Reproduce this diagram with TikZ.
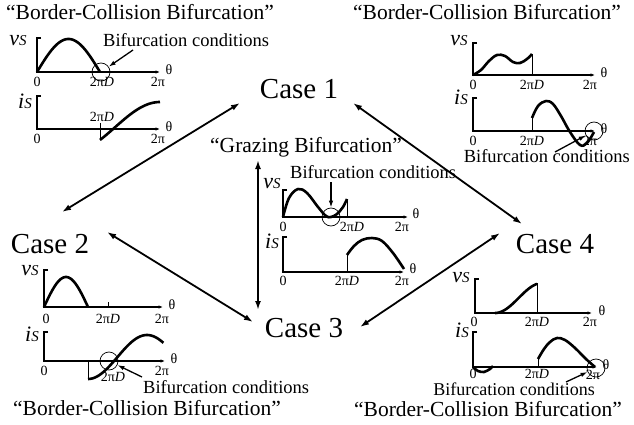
\documentclass[tikz,border=0pt]{standalone}
\usepackage{fontspec}
\setmainfont{Liberation Serif}
\usetikzlibrary{arrows.meta}
\newcommand\myvs{{\fontsize{22}{22}\selectfont\itshape v}{\fontsize{15}{15}\selectfont\itshape S}}
\newcommand\myis{{\fontsize{22}{22}\selectfont\itshape i}{\fontsize{15}{15}\selectfont\itshape S}}
\newcommand\tpD{2π\textit{D}}
\newcommand\plotaxes[4]{\draw[axis] ({#1+4},#2) -- (#1,#2) -- (#1,#3) -- (#4,#3);}
\begin{document}
\begin{tikzpicture}[x=1pt,y=-1pt,
  axis/.style={line width=1.2pt,-{Latex[length=4.5pt,width=3.5pt]}},
  curve/.style={line width=2.6pt,line join=round},
  vline/.style={line width=0.7pt},
  casearrow/.style={line width=1.8pt,{Latex[length=9pt,width=6pt]}-{Latex[length=9pt,width=6pt]}},
  pointer/.style={line width=1.3pt,-{Latex[length=7pt,width=4.5pt]}},
  ring/.style={draw,circle,line width=0.7pt,minimum size=18pt,inner sep=0pt},
  casetext/.style={inner sep=0pt,font=\fontsize{29}{29}\selectfont},
  title/.style={inner sep=0pt,font=\fontsize{21.5}{21.5}\selectfont},
  cond/.style={inner sep=0pt,font=\fontsize{18.5}{18.5}\selectfont},
  ticklab/.style={inner sep=0pt,font=\fontsize{14}{14}\selectfont},
  varlab/.style={inner sep=0pt},
]
\useasboundingbox (0,0) rectangle (634,425);

% ---------- titles ----------
\node[title,anchor=base west] (ttl) at (6,20) {“Border-Collision Bifurcation”};
\node[title,anchor=base east] (ttr) at (621,20) {“Border-Collision Bifurcation”};
\node[title,anchor=base west] (tbl) at (13,415) {“Border-Collision Bifurcation”};
\node[title,anchor=base east] (tbr) at (622,416) {“Border-Collision Bifurcation”};
\node[title,anchor=base west] (tgr) at (210,153) {“Grazing Bifurcation”};

% ---------- cases ----------
\node[casetext,anchor=base] (case1) at (299,99) {Case 1};
\node[casetext,anchor=base] (case2) at (50,253) {Case 2};
\node[casetext,anchor=base] (case3) at (304,337) {Case 3};
\node[casetext,anchor=base] (case4) at (555,253) {Case 4};

\coordinate (c12a) at (240,103); \coordinate (c12b) at (62,212);
\coordinate (c14a) at (353,103); \coordinate (c14b) at (522,224);
\coordinate (c23a) at (107,232); \coordinate (c23b) at (253,322);
\coordinate (c34a) at (360,327); \coordinate (c34b) at (500,233);
\coordinate (c13a) at (258,160); \coordinate (c13b) at (258,310);
\draw[casearrow] (c12a) -- (c12b);
\draw[casearrow] (c14a) -- (c14b);
\draw[casearrow] (c23a) -- (c23b);
\draw[casearrow] (c34a) -- (c34b);
\draw[casearrow] (c13a) -- (c13b);

% ---------- top-left panel ----------
\plotaxes{37}{38}{72}{160}
\node[varlab] (tlv) at (18,41) {\myvs};
\node[ticklab] (tl0a) at (37,82) {0};
\node[ticklab] (tlDa) at (102,82) {\tpD};
\node[ticklab] (tlpa) at (158,82) {2π};
\node[ticklab] (tlta) at (169,70) {θ};
\draw[curve] plot[domain=0:180,samples=40] ({37+63*\x/180},{72-33*sin(\x)});
\node[ring] (ctl) at (101,72) {};
\node[cond,anchor=base west] (condtl) at (103,47) {Bifurcation conditions};
\coordinate (ptl) at (133,50);
\draw[pointer] (ptl) -- (ctl);
\plotaxes{37}{96}{129}{160}
\node[varlab] (tli) at (25,101) {\myis};
\node[ticklab] (tl0b) at (37,139) {0};
\node[ticklab] (tlDb) at (102,117) {\tpD};
\node[ticklab] (tlpb) at (158,139) {2π};
\node[ticklab] (tltb) at (169,127) {θ};
\draw[vline] (100,123) -- (100,140);
\draw[curve] plot[domain=-30:90,samples=40] ({100+60*(\x+30)/120},{127.3-25.3*sin(\x)});

% ---------- top-right panel ----------
\plotaxes{473}{43}{75}{595}
\node[varlab] (trv) at (459,41) {\myvs};
\node[ticklab] (tr0a) at (473,85) {0};
\node[ticklab] (trDa) at (532,85) {\tpD};
\node[ticklab] (trpa) at (590,85) {2π};
\node[ticklab] (trta) at (604,73) {θ};
\draw[curve] plot[smooth,tension=0.6] coordinates {(473,75) (481,70) (489,61) (497,55) (505,56) (513,62) (520,63) (527,59) (532,54)};
\draw[vline] (532,54) -- (532,75);
\plotaxes{473}{98}{131}{595}
\node[varlab] (tri) at (461,97) {\myis};
\node[ticklab] (tr0b) at (473,141) {0};
\node[ticklab] (trDb) at (532,141) {\tpD};
\node[ticklab] (trpb) at (590,141) {2π};
\node[ticklab] (trtb) at (604,129) {θ};
\draw[vline] (532,131) -- (532,118);
\draw[curve] plot[smooth,tension=0.6] coordinates {(532,118) (538,106) (546,101) (553,104) (561,116) (570,132) (580,145) (587,143) (594,132)};
\node[ring] (ctr) at (594,131) {};
\node[cond,anchor=base east] (condtr) at (630,162) {Bifurcation conditions};
\coordinate (ptr) at (555,152);
\draw[pointer] (ptr) -- (ctr);

% ---------- centre panel ----------
\plotaxes{283}{190}{217}{408}
\node[varlab] (cv) at (272,184) {\myvs};
\node[ticklab] (c0a) at (283,227) {0};
\node[ticklab] (cDa) at (352,227) {\tpD};
\node[ticklab] (cpa) at (402,227) {2π};
\node[ticklab] (cta) at (416,214) {θ};
\draw[curve] plot[smooth,tension=0.6] coordinates {(283,217) (289,198) (298,189) (307,193) (318,207) (326,216) (331,217) (337,214) (343,207) (347,199)};
\draw[vline] (347,199) -- (347,217);
\node[ring] (cc) at (331,217) {};
\node[cond,anchor=base west] (condc) at (290,178) {Bifurcation conditions};
\coordinate (pc) at (331,182);
\draw[pointer] (pc) -- (cc);
\plotaxes{283}{237}{272}{404}
\node[varlab] (ci) at (272,241) {\myis};
\node[ticklab] (c0b) at (283,281) {0};
\node[ticklab] (cDb) at (347,281) {\tpD};
\node[ticklab] (cpb) at (402,281) {2π};
\node[ticklab] (ctb) at (413,269) {θ};
\draw[vline] (347,272) -- (347,255);
\draw[curve] plot[smooth,tension=0.6] coordinates {(347,255) (354,246) (362,240) (372,238) (382,241) (393,253) (404,269)};

% ---------- bottom-left panel ----------
\plotaxes{44}{270}{307}{163}
\node[varlab] (blv) at (30,271) {\myvs};
\node[ticklab] (bl0a) at (46,319) {0};
\node[ticklab] (blDa) at (108,319) {\tpD};
\node[ticklab] (blpa) at (162,319) {2π};
\node[ticklab] (blta) at (172,305) {θ};
\draw[vline] (108,302) -- (108,307);
\draw[curve] plot[domain=0:180,samples=40] ({44+44*\x/180},{307-30*sin(\x)});
\plotaxes{44}{332}{361}{165}
\node[varlab] (bli) at (32,334) {\myis};
\node[ticklab] (bl0b) at (44,371) {0};
\node[ticklab] (blDb) at (113,377) {\tpD};
\node[ticklab] (blpb) at (162,371) {2π};
\node[ticklab] (bltb) at (174,359) {θ};
\draw[vline] (88,361) -- (88,379);
\draw[curve] plot[domain=-90:140,samples=50] ({88+59*(\x+90)/180},{357-22*sin(\x)});
\node[ring] (cbl) at (109,361) {};
\node[cond,anchor=base west] (condbl) at (143,393) {Bifurcation conditions};
\coordinate (pbl) at (142,377);
\draw[pointer] (pbl) -- (cbl);

% ---------- bottom-right panel ----------
\plotaxes{475}{279}{313}{592}
\node[varlab] (brv) at (461,278) {\myvs};
\node[ticklab] (br0a) at (474,322) {0};
\node[ticklab] (brDa) at (537,322) {\tpD};
\node[ticklab] (brpa) at (590,322) {2π};
\node[ticklab] (brta) at (602,311) {θ};
\draw[curve] plot[domain=-90:70,samples=40] ({495+42*(\x+90)/160},{298-15*sin(\x)});
\draw[vline] (537,283) -- (537,313);
\plotaxes{473}{332}{367}{597}
\node[varlab] (bri) at (462,330) {\myis};
\node[ticklab] (br0b) at (473,374) {0};
\node[ticklab] (brDb) at (537,374) {\tpD};
\node[ticklab] (brpb) at (593,375) {2π};
\node[ticklab] (brtb) at (606,365) {θ};
\draw[curve] plot[smooth] coordinates {(473,367) (478,371) (484,372) (490,369) (493,366)};
\draw[vline] (538,367) -- (538,359);
\draw[curve] plot[smooth,tension=0.6] coordinates {(538,359) (544,349) (550,342) (557,338) (565,340) (575,348) (586,359) (595,367)};
\node[ring] (cbr) at (596,368) {};
\node[cond,anchor=base east,font=\fontsize{18}{18}\selectfont] (condbr) at (595,395) {Bifurcation conditions};
\coordinate (pbr) at (566,382);
\draw[pointer] (pbr) -- (cbr);
\end{tikzpicture}
\end{document}
